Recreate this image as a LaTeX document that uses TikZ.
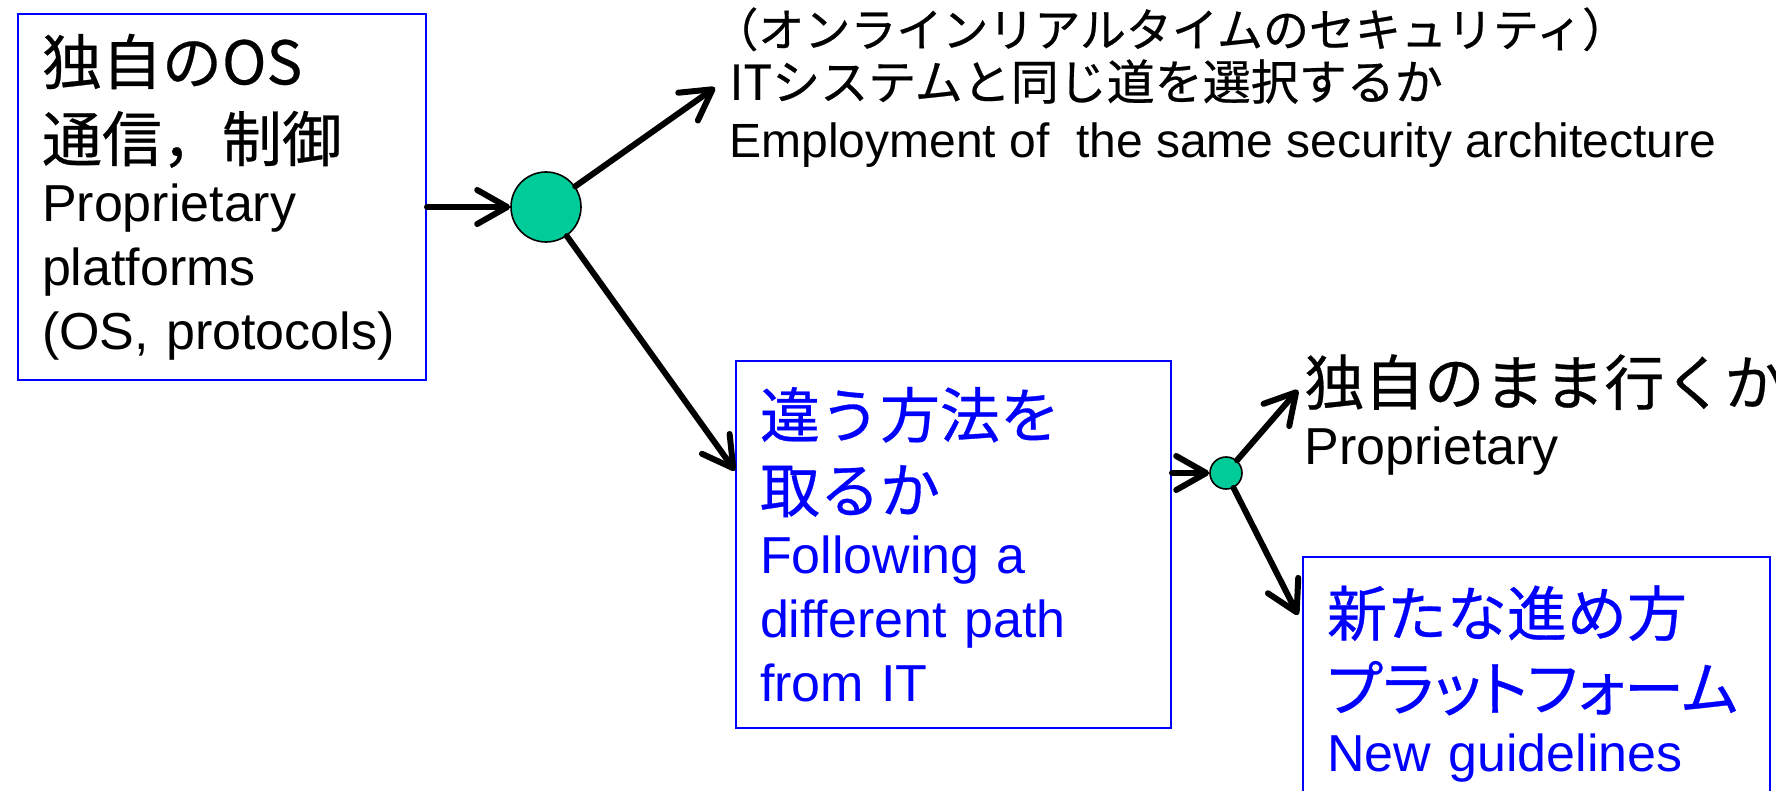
\documentclass[tikz,border=0pt]{standalone}
\usepackage{fontspec}
\setmainfont{Liberation Sans}
\newfontfamily\jp[FakeBold=0.5]{Noto Sans CJK JP}
\newfontfamily\jpprop[FakeBold=0.5,RawFeature=+palt]{Noto Sans CJK JP}
\usetikzlibrary{arrows.meta,%
                calc,%
                positioning}
\definecolor{forkgreen}{RGB}{0,204,153}
\newcommand{\jpbig}{\jp\fontsize{30pt}{32pt}\selectfont}
\newcommand{\jpmid}{\jp\fontsize{23pt}{26pt}\selectfont}
\tikzstyle{pbox}=[rectangle, draw=blue, line width=1pt, anchor=north west, align=left,
                  inner xsep=12pt, inner ysep=0pt, font=\fontsize{26pt}{32pt}\selectfont]
\tikzstyle{fork}=[circle, draw, line width=0.8pt, fill=forkgreen, inner sep=0pt]
\tikzstyle{pick}=[-{Straight Barb[length=15pt,width=17pt,round]}, line width=3pt, line cap=round]

\begin{document}
\begin{tikzpicture}[x=0.5pt,y=-0.5pt]
  \useasboundingbox (0,0) rectangle (1776,791);

  % where we start from
  \node[pbox, minimum width=204pt, minimum height=183pt, text width=180pt] (os) at (17,13)
    {{\jpbig 独自のOS}\\[6.5pt]{\jpbig 通信，制御}\\[-2pt]Proprietary\\platforms\\(OS, protocols)};
  \node[fork, minimum size=35pt] (big) at (546,207) {};

  % first branch
  \node[anchor=north west, inner sep=0pt, align=left, font=\fontsize{24pt}{29pt}\selectfont] (same) at (729,7)
    {{\jpmid\kern-.37em（オンラインリアルタイムのセキュリティ）}\\[-2.5pt]{\jp ITシステムと同じ道を選択するか}\\
     Employment of~ the same security architecture};
  \node[pbox, text=blue, minimum width=217.5pt, minimum height=183.5pt, text width=193.5pt] (mid) at (735,360)
    {{\jpbig 違う方法を}\\[5.5pt]{\jpbig 取るか}\\[-1.5pt]Following a\\different path\\from IT};
  \node[fork, minimum size=16pt] (small) at (1226,473) {};

  % second branch
  \node[anchor=north west, inner sep=0pt, align=left, font=\fontsize{26pt}{30pt}\selectfont] (keep) at (1304,354)
    {{\jpbig 独自のまま行くか}\\Proprietary};
  \node[pbox, text=blue, minimum width=233.5pt, minimum height=127pt, text width=209.5pt] (new) at (1302,556)
    {{\jpbig 新たな進め方}\\[5.5pt]{\jpbig\jpprop プラットフォーム}\\[-1.5pt]New guidelines};

  \draw[pick] (os.east |- big) -- (big);
  \draw[pick] (big) -- ([xshift=-7pt]same.west);
  \draw[pick] (big) -- ($(mid.north west)!0.3!(mid.south west)$);
  \draw[pick] (mid.east |- small) -- (small);
  \draw[pick] (small) -- ([shift={(-3pt,-18pt)}]keep.north west);
  \draw[pick] (small) -- ([shift={(-2pt,-29.5pt)}]new.north west);
\end{tikzpicture}
\end{document}
